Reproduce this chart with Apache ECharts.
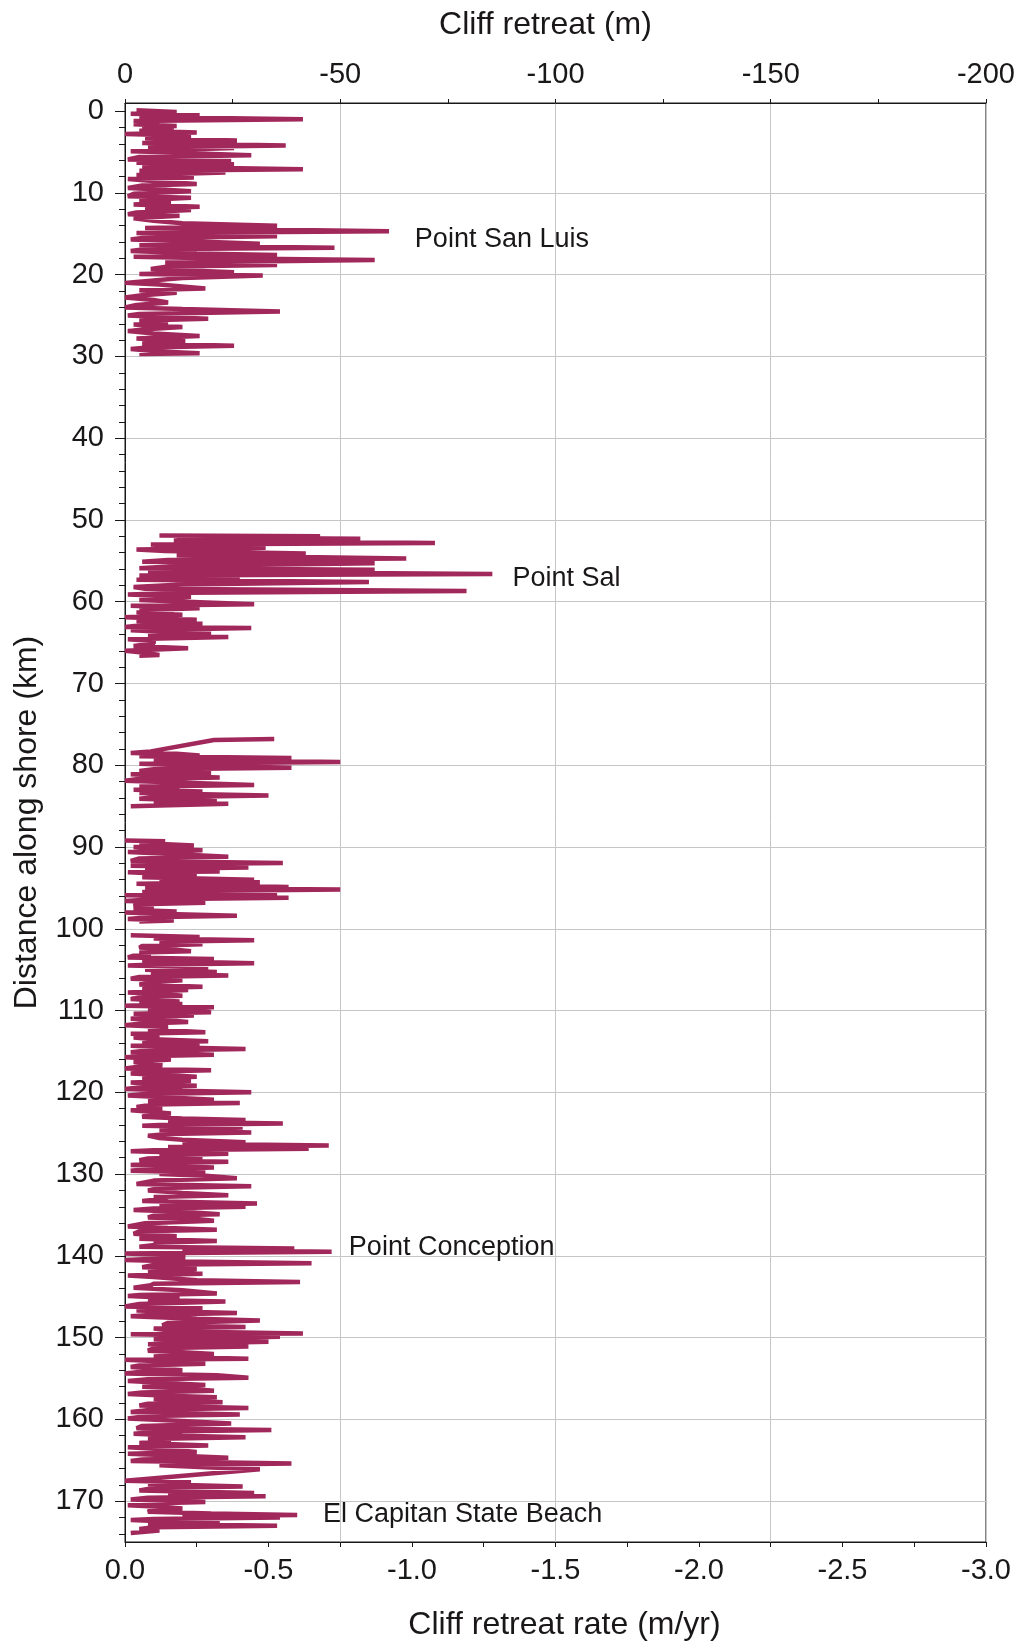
<!DOCTYPE html>
<html>
<head>
<meta charset="utf-8">
<script src="https://cdn.jsdelivr.net/npm/echarts@6/dist/echarts.min.js"></script>
<style>
  html, body { margin: 0; padding: 0; background: #fff; }
  #chart { width: 1018px; height: 1646px; }
</style>
</head>
<body>
<div id="chart"></div>
<script>
// distance along shore (km) and cliff retreat rate (m/yr), one pair of arrays per reach
const reach1Km = [
  -0.1, 0.1, 0.3, 0.5, 0.7, 1.0, 1.2, 1.4, 1.6, 1.8,
  2.0, 2.2, 2.4, 2.6, 2.8, 3.0, 3.3, 3.6, 3.9, 4.2,
  4.4, 4.5, 4.9, 5.1, 5.4, 5.6, 5.9, 6.1, 6.3, 6.5,
  6.8, 7.1, 7.3, 7.5, 7.8, 8.1, 8.3, 8.6, 8.9, 9.1,
  9.4, 9.6, 9.8, 10.1, 10.4, 10.6, 10.9, 11.2, 11.4, 11.7,
  11.9, 12.1, 12.4, 12.6, 12.8, 13.1, 13.4, 13.7, 14.0, 14.3,
  14.7, 14.9, 15.1, 15.3, 15.5, 15.7, 16.0, 16.2, 16.4, 16.7,
  16.9, 17.1, 17.4, 17.6, 17.8, 18.0, 18.2, 18.5, 18.8, 19.0,
  19.3, 19.7, 19.9, 20.1, 20.4, 21.0, 21.2, 21.7, 21.9, 22.2,
  22.5, 22.8, 23.1, 23.4, 23.7, 24.0, 24.2, 24.5, 24.8, 25.0,
  25.2, 25.4, 25.6, 25.9, 26.1, 26.4, 26.7, 26.9, 27.2, 27.5,
  27.8, 28.1, 28.4, 28.7, 28.9, 29.1, 29.4, 29.6, 29.7
];
const reach1Rate = [
  -0.04, -0.18, -0.02, -0.26, -0.05, -0.62, -0.03, -0.12, -0.03, -0.18,
  -0.06, -0.17, -0.05, -0.25, 0, -0.23, -0.07, -0.39, -0.06, -0.56,
  -0.08, -0.38, -0.02, -0.2, -0.44, -0.05, -0.01, -0.37, -0.04, -0.38,
  -0.06, -0.62, -0.05, -0.35, -0.04, -0.24, -0.01, -0.12, -0.25, -0.06,
  -0.01, -0.14, -0.23, -0.03, -0.01, -0.23, -0.05, -0.16, -0.03, -0.26,
  -0.07, -0.23, -0.04, -0.01, -0.19, -0.03, -0.1, -0.2, -0.53, -0.07,
  -0.92, -0.04, -0.3, -0.53, -0.06, -0.02, -0.3, -0.47, -0.05, -0.73,
  -0.06, -0.02, -0.25, -0.53, -0.03, -0.3, -0.87, -0.14, -0.53, -0.15,
  -0.09, -0.38, -0.05, -0.48, -0.2, 0, -0.12, -0.28, -0.05, -0.18,
  -0.06, 0, -0.1, -0.15, -0.04, 0, -0.2, -0.54, -0.05, -0.01,
  -0.15, -0.29, -0.05, -0.15, -0.03, -0.2, -0.06, -0.01, -0.1, -0.26,
  -0.04, -0.21, -0.06, -0.38, -0.08, -0.02, -0.12, -0.26, -0.05
];
const reach2Km = [
  51.9, 52.0, 52.15, 52.3, 52.5, 52.8, 53.0, 53.2, 53.4, 53.6,
  53.8, 54.1, 54.3, 54.7, 54.9, 55.1, 55.3, 55.6, 55.9, 56.1,
  56.3, 56.6, 56.8, 57.1, 57.3, 57.6, 57.9, 58.2, 58.4, 58.7,
  58.9, 59.1, 59.4, 59.8, 60.3, 60.5, 60.8, 61.0, 61.1, 61.3,
  61.6, 61.9, 62.2, 62.4, 62.7, 62.9, 63.1, 63.2, 63.5, 63.9,
  64.1, 64.3, 64.6, 64.8, 65.1, 65.4, 65.7, 66.0, 66.2, 66.5,
  66.6
];
const reach2Rate = [
  -0.12, -0.68, -0.18, -0.82, -0.17, -1.08, -0.09, -0.2, -0.49, -0.04,
  -0.14, -0.63, -0.18, -0.98, -0.15, -0.06, -0.87, -0.2, -0.05, -0.87,
  -0.08, -1.28, -0.05, -0.4, -0.04, -0.85, -0.2, -0.03, -0.07, -1.19,
  -0.22, -0.01, -0.23, -0.05, -0.45, -0.02, -0.26, -0.05, -0.17, -0.04,
  -0.2, 0, -0.25, -0.04, -0.27, -0.05, 0, -0.44, -0.02, -0.3,
  -0.08, -0.36, -0.01, -0.1, -0.1, -0.03, -0.22, 0, -0.06, -0.12,
  -0.05
];
const reach3Km = [
  76.8, 76.9, 78.3, 78.5, 78.6, 78.8, 78.9, 79.1, 79.3, 79.6,
  79.8, 80.0, 80.3, 80.5, 80.7, 80.9, 81.1, 81.3, 81.5, 81.7,
  81.9, 82.1, 82.4, 82.6, 82.8, 83.0, 83.2, 83.4, 83.7, 83.9,
  84.1, 84.4, 84.6, 84.7, 85.0
];
const reach3Rate = [
  -0.52, -0.31, -0.09, -0.02, -0.18, -0.26, -0.05, -0.58, -0.1, -0.75,
  -0.05, -0.2, -0.58, -0.1, -0.05, -0.3, -0.02, -0.15, -0.33, -0.04,
  0, -0.18, -0.45, -0.05, -0.19, -0.03, -0.27, -0.05, -0.5, -0.1,
  -0.05, -0.32, -0.1, -0.36, -0.02
];
const reach4Km = [
  89.2, 89.3, 89.5, 89.8, 90.0, 90.2, 90.4, 90.6, 90.9, 91.2,
  91.4, 91.7, 91.95, 92.1, 92.3, 92.5, 92.7, 93.0, 93.1, 93.3,
  93.5, 93.7, 94.0, 94.2, 94.3, 94.5, 94.7, 94.9, 95.0, 95.2,
  95.4, 95.5, 95.7, 95.9, 96.2, 96.4, 96.6, 96.8, 97.0, 97.2,
  97.4, 97.7, 97.9, 98.0, 98.2, 98.4, 98.6, 98.8, 99.0, 99.1
];
const reach4Rate = [
  0, -0.14, -0.05, -0.24, -0.03, -0.1, -0.27, -0.01, -0.2, -0.36,
  -0.05, -0.02, -0.55, -0.1, -0.02, -0.43, -0.07, -0.33, -0.01, -0.15,
  -0.25, -0.06, -0.45, -0.12, -0.47, -0.04, -0.3, -0.57, -0.07, -0.75,
  -0.15, -0.06, -0.53, 0, -0.57, -0.1, 0, -0.28, -0.05, -0.03,
  -0.1, -0.03, -0.18, 0, -0.15, -0.39, -0.08, -0.01, -0.17, -0.05
];
const reach5Km = [
  100.8, 101.0, 101.2, 101.4, 101.6, 101.9, 102.1, 102.3, 102.5, 102.75,
  102.9, 103.1, 103.3, 103.5, 103.7, 103.9, 104.2, 104.4, 104.5, 104.7,
  105.0, 105.3, 105.5, 105.7, 105.9, 106.1, 106.3, 106.5, 106.8, 107.1,
  107.3, 107.5, 107.8, 108.0, 108.2, 108.4, 108.6, 108.9, 109.1, 109.2,
  109.4, 109.6, 109.8, 110.0, 110.2, 110.4, 110.6, 110.8, 111.0, 111.2,
  111.4, 111.6, 111.8, 112.0, 112.3, 112.65, 112.85, 113.0, 113.3, 113.5,
  113.75, 113.9, 114.1, 114.3, 114.5, 114.7, 114.9, 115.1, 115.4, 115.6,
  115.7, 116.0, 116.3, 116.5, 116.7, 116.9, 117.1, 117.3, 117.5, 117.7,
  117.9, 118.1, 118.3, 118.6, 118.8, 119.0, 119.2, 119.4, 119.6, 119.8,
  120.0, 120.2, 120.4, 120.6, 120.9, 121.1, 121.3, 121.5, 121.8, 122.0,
  122.2, 122.4, 122.6, 122.8, 123.0, 123.2, 123.4, 123.6, 123.8, 124.0,
  124.1, 124.3, 124.6, 124.9, 125.1, 125.3, 125.6, 125.8, 126.1, 126.3,
  126.5, 126.7, 126.9, 127.1, 127.2, 127.5, 127.7, 127.9, 128.1, 128.3,
  128.5, 128.7, 128.9, 129.2, 129.4, 129.6, 129.8, 130.0, 130.2, 130.5,
  130.8, 131.2, 131.5, 131.7, 132.0, 132.3, 132.6, 132.8, 133.0, 133.3,
  133.6, 133.8, 134.0, 134.2, 134.4, 134.6, 134.9, 135.1, 135.3, 135.5,
  135.7, 136.0, 136.4, 136.6, 136.8, 137.0, 137.3, 137.6, 137.9, 138.2,
  138.4, 138.6, 138.9, 139.1, 139.3, 139.5, 139.7, 139.9, 140.2, 140.5,
  140.7, 140.9, 141.1, 141.4, 141.6, 141.8, 142.0, 142.2, 142.4, 142.6,
  142.8, 143.0, 143.2, 143.4, 143.6, 143.9, 144.2, 144.6, 144.8, 144.9,
  145.2, 145.4, 145.6, 145.9, 146.2, 146.4, 146.6, 146.7, 147.0, 147.2,
  147.4, 147.7, 147.9, 148.2, 148.5, 148.7, 148.9, 149.1, 149.3, 149.5,
  149.6, 149.9, 150.2, 150.5, 150.8, 151.1, 151.3, 151.6, 151.8, 152.0,
  152.3, 152.6, 152.7, 152.9, 153.2, 153.4, 153.6, 153.8, 154.0, 154.2,
  154.4, 154.6, 154.9, 155.1, 155.3, 155.6, 155.8, 156.0, 156.2, 156.5,
  156.7, 156.9, 157.1, 157.3, 157.5, 157.9, 158.1, 158.3, 158.6, 158.8,
  159.1, 159.4, 159.6, 159.9, 160.2, 160.5, 160.8, 161.1, 161.3, 161.5,
  161.75, 162.0, 162.2, 162.4, 162.6, 162.9, 163.2, 163.4, 163.7, 164.0,
  164.2, 164.4, 164.7, 164.9, 165.1, 165.4, 165.6, 165.9, 166.1, 167.5,
  167.7, 167.9, 168.2, 168.4, 168.7, 169.0, 169.2, 169.4, 169.6, 169.8,
  170.1, 170.3, 170.5, 170.7, 170.9, 171.1, 171.3, 171.5, 171.7, 171.85,
  172.0, 172.2, 172.3, 172.5, 172.7, 172.8, 173.0, 173.2, 173.4, 173.6,
  173.8, 173.9
];
const reach5Rate = [
  -0.02, -0.26, -0.1, -0.45, -0.12, -0.27, -0.06, -0.05, -0.16, -0.23,
  -0.05, -0.09, -0.03, -0.01, -0.31, -0.06, -0.45, -0.08, -0.01, -0.29,
  -0.07, -0.32, -0.09, -0.36, -0.05, -0.02, -0.2, -0.11, -0.05, -0.27,
  -0.06, -0.22, -0.01, -0.14, -0.2, -0.05, -0.02, -0.19, -0.05, -0.2,
  0, -0.31, -0.08, -0.2, -0.3, -0.03, -0.24, -0.08, -0.02, -0.15,
  -0.22, -0.05, 0, -0.15, -0.08, -0.28, -0.02, -0.12, -0.03, -0.1,
  -0.29, -0.06, -0.26, -0.02, -0.15, -0.42, -0.08, -0.02, -0.31, -0.06,
  0, -0.16, -0.03, -0.1, -0.13, -0.04, 0, -0.3, -0.08, -0.02,
  -0.15, -0.25, -0.06, -0.23, -0.02, -0.12, -0.25, -0.05, 0, -0.2,
  -0.44, -0.07, -0.01, -0.14, -0.31, -0.08, -0.4, -0.1, -0.04, -0.13,
  -0.02, -0.1, -0.16, -0.08, -0.06, -0.2, -0.42, -0.15, -0.55, -0.12,
  -0.06, -0.41, -0.12, -0.44, -0.15, -0.08, -0.12, -0.2, -0.42, -0.2,
  -0.71, -0.15, -0.64, -0.1, -0.02, -0.36, -0.12, -0.27, -0.08, -0.05,
  -0.36, -0.1, -0.02, -0.31, -0.07, -0.02, -0.28, -0.12, -0.28, -0.39,
  -0.1, -0.04, -0.44, -0.12, -0.08, -0.2, -0.36, -0.1, -0.15, -0.06,
  -0.46, -0.12, -0.42, -0.1, -0.03, -0.2, -0.33, -0.1, -0.08, -0.25,
  -0.31, -0.07, -0.01, -0.15, -0.32, -0.05, -0.03, -0.18, -0.05, -0.32,
  -0.1, -0.12, -0.05, -0.59, -0.2, -0.72, 0, -0.15, -0.21, 0,
  -0.2, -0.65, -0.1, -0.06, -0.25, -0.25, -0.08, -0.27, -0.01, -0.1,
  -0.18, -0.25, -0.61, -0.1, -0.09, -0.03, -0.2, -0.32, -0.05, -0.01,
  -0.19, -0.08, -0.35, -0.05, 0, -0.27, -0.08, -0.04, -0.39, -0.1,
  -0.02, -0.25, -0.47, -0.15, -0.13, -0.42, -0.1, -0.15, -0.25, -0.62,
  -0.02, -0.54, -0.1, -0.5, -0.08, -0.43, -0.1, -0.08, -0.2, -0.31,
  -0.1, -0.43, 0, -0.12, -0.28, -0.05, -0.02, -0.12, -0.2, -0.05,
  0, -0.32, -0.43, -0.08, -0.01, -0.18, -0.28, -0.06, -0.2, -0.31,
  -0.06, -0.01, -0.15, -0.32, -0.1, -0.34, -0.08, -0.05, -0.43, -0.1,
  -0.02, -0.4, -0.08, -0.01, -0.2, -0.37, -0.06, -0.04, -0.51, -0.12,
  -0.03, -0.2, -0.42, -0.08, -0.16, -0.05, -0.29, -0.01, -0.15, -0.25,
  -0.01, -0.15, -0.36, -0.06, -0.02, -0.58, -0.12, -0.3, -0.47, 0,
  -0.23, -0.08, -0.41, -0.1, -0.05, -0.45, -0.15, -0.49, -0.08, -0.02,
  -0.28, -0.08, -0.01, -0.12, -0.2, -0.09, -0.08, -0.3, -0.6, -0.2,
  -0.54, -0.1, -0.02, -0.15, -0.33, -0.08, -0.53, -0.1, -0.05, -0.12,
  -0.12, -0.02
];

// place names written on the plot
const siteNames = ['Point San Luis', 'Point Sal', 'Point Conception', 'El Capitan State Beach'];
const siteKm = [15.7, 57.2, 139.0, 171.7];
const siteRate = [-1.01, -1.35, -0.78, -0.69];

// tick labels
const kmLabels = [0, 10, 20, 30, 40, 50, 60, 70, 80, 90, 100, 110, 120, 130, 140, 150, 160, 170];
const kmMinorTicks = [2, 4, 6, 8, 12, 14, 16, 18, 22, 24, 26, 28, 32, 34, 36, 38, 42, 44, 46, 48,
  52, 54, 56, 58, 62, 64, 66, 68, 72, 74, 76, 78, 82, 84, 86, 88, 92, 94, 96, 98,
  102, 104, 106, 108, 112, 114, 116, 118, 122, 124, 126, 128, 132, 134, 136, 138,
  142, 144, 146, 148, 152, 154, 156, 158, 162, 164, 166, 168, 172, 174];
const kmGridLines = [10, 20, 30, 40, 50, 60, 70, 80, 90, 100, 110, 120, 130, 140, 150, 160, 170];

const reaches = [
  [reach1Km, reach1Rate],
  [reach2Km, reach2Rate],
  [reach3Km, reach3Rate],
  [reach4Km, reach4Rate],
  [reach5Km, reach5Rate]
];
const lineData = [];
reaches.forEach(function (r, i) {
  if (i > 0) lineData.push(['-', '-']); // gap in the record
  for (let k = 0; k < r[0].length; k++) {
    lineData.push([r[1][k], r[0][k]]);
  }
});

const AX = '#1a1718';
const FONT = "'Liberation Sans', Arial, Helvetica, sans-serif";
const GRID = '#c6c6c6';

const chart = echarts.init(document.getElementById('chart'));
chart.setOption({
  animation: false,
  backgroundColor: '#fff',
  textStyle: { fontFamily: FONT },
  grid: {
    left: 125, right: 29, top: 103, bottom: 103,
    show: true, borderColor: AX, borderWidth: 1, backgroundColor: 'transparent'
  },
  xAxis: [
    {
      type: 'value',
      position: 'bottom',
      min: -3, max: 0, interval: 0.5,
      inverse: true,
      name: 'Cliff retreat rate (m/yr)',
      nameLocation: 'middle',
      nameGap: 67,
      nameTextStyle: { fontSize: 32, color: AX, fontFamily: FONT, padding: [0, 0, 0, 18] },
      axisLine: { onZero: false, lineStyle: { color: AX, width: 1 } },
      axisTick: { length: 5, lineStyle: { color: AX } },
      minorTick: { show: true, splitNumber: 2, length: 5, lineStyle: { color: AX } },
      axisLabel: {
        fontSize: 29, color: AX, fontFamily: FONT, margin: 14,
        formatter: function (v) { return v.toFixed(1); }
      },
      splitLine: { show: false }
    },
    {
      type: 'value',
      position: 'top',
      min: -200, max: 0, interval: 50,
      inverse: true,
      name: 'Cliff retreat (m)',
      nameLocation: 'middle',
      nameGap: 62,
      nameTextStyle: { fontSize: 32, color: AX, fontFamily: FONT, padding: [0, 20, 0, 0] },
      axisLine: { onZero: false, lineStyle: { color: AX, width: 1 } },
      axisTick: { length: 4, lineStyle: { color: AX } },
      minorTick: { show: true, splitNumber: 2, length: 4, lineStyle: { color: AX } },
      axisLabel: { fontSize: 29, color: AX, fontFamily: FONT, margin: 14 },
      splitLine: { show: true, lineStyle: { color: GRID, width: 1 } }
    }
  ],
  yAxis: [
    {
      type: 'value',
      position: 'left',
      min: -1, max: 175,
      inverse: true,
      name: 'Distance along shore (km)',
      nameLocation: 'middle',
      nameRotate: 90,
      nameGap: 82,
      nameTextStyle: { fontSize: 32, color: AX, fontFamily: FONT },
      axisLine: { onZero: false, lineStyle: { color: AX, width: 1 } },
      axisTick: { length: 10, customValues: kmLabels, lineStyle: { color: AX } },
      axisLabel: { fontSize: 29, color: AX, fontFamily: FONT, margin: 21, customValues: kmLabels },
      splitLine: { show: false }
    },
    {
      type: 'value',
      position: 'left',
      min: -1, max: 175,
      inverse: true,
      axisLine: { show: false },
      axisTick: { length: 6, customValues: kmMinorTicks, lineStyle: { color: AX } },
      axisLabel: { show: false, customValues: kmMinorTicks },
      splitLine: { show: false }
    },
    {
      type: 'value',
      position: 'left',
      min: -1, max: 175,
      inverse: true,
      axisLine: { show: false },
      axisTick: { show: false, customValues: kmGridLines },
      axisLabel: { show: false, customValues: kmGridLines },
      splitLine: { show: true, lineStyle: { color: GRID, width: 1 } }
    }
  ],
  series: [
    {
      name: 'Cliff retreat rate',
      type: 'line',
      xAxisIndex: 0,
      yAxisIndex: 0,
      data: lineData,
      symbol: 'none',
      showSymbol: false,
      connectNulls: false,
      lineStyle: { color: '#a1285b', width: 4.5, join: 'bevel' },
      z: 5
    },
    {
      name: 'Sites',
      type: 'scatter',
      xAxisIndex: 0,
      yAxisIndex: 0,
      symbol: 'circle',
      symbolSize: 0,
      itemStyle: { color: AX },
      silent: true,
      data: siteNames.map(function (n, i) { return { name: n, value: [siteRate[i], siteKm[i]] }; }),
      label: {
        show: true, position: 'right', distance: 0, opacity: 1,
        formatter: '{b}', fontSize: 27, color: AX, fontFamily: FONT
      },
      z: 6
    }
  ]
});
</script>
</body>
</html>
